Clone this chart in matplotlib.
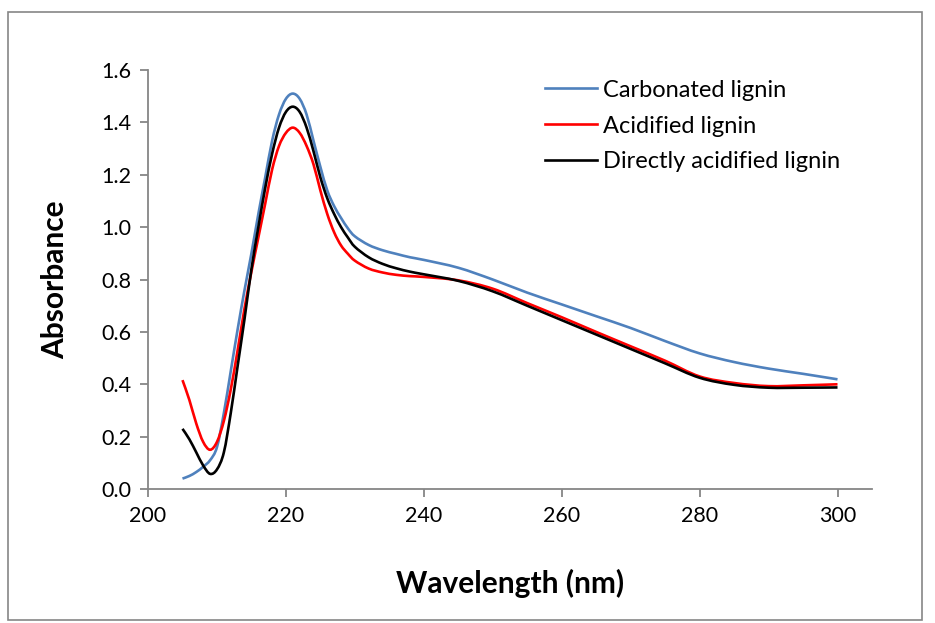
"""UV absorbance spectra of three lignin samples (Excel-style smoothed line chart)."""

import matplotlib

matplotlib.use("Agg")
import matplotlib.pyplot as plt
import numpy as np
from matplotlib.lines import Line2D
from matplotlib.patches import PathPatch, Rectangle
from matplotlib.path import Path
from matplotlib.ticker import FormatStrFormatter

plt.rcParams["font.family"] = ["Lato", "DejaVu Sans"]

wavelength = [205, 206, 207, 208, 209, 210, 211, 212, 213, 214, 215, 216, 217, 218,
              219, 220, 221, 222, 223, 224, 225, 226, 227, 228, 229, 230, 232, 234,
              236, 238, 240, 245, 250, 255, 260, 265, 270, 275, 280, 285, 290, 295, 300]

carbonated = [0.04, 0.05, 0.065, 0.085, 0.11, 0.16, 0.29, 0.45, 0.61, 0.76, 0.90, 1.05,
              1.19, 1.33, 1.43, 1.49, 1.51, 1.49, 1.43, 1.33, 1.23, 1.14, 1.08, 1.035,
              0.995, 0.965, 0.932, 0.912, 0.898, 0.885, 0.875, 0.845, 0.80, 0.75, 0.705,
              0.66, 0.615, 0.565, 0.518, 0.485, 0.46, 0.44, 0.419]

acidified = [0.416, 0.34, 0.25, 0.18, 0.15, 0.18, 0.26, 0.38, 0.53, 0.69, 0.83, 0.96,
             1.09, 1.22, 1.31, 1.36, 1.38, 1.36, 1.31, 1.24, 1.14, 1.05, 0.98, 0.93,
             0.898, 0.872, 0.842, 0.827, 0.818, 0.813, 0.81, 0.797, 0.765, 0.71, 0.656,
             0.60, 0.545, 0.49, 0.43, 0.405, 0.393, 0.396, 0.40]

direct = [0.23, 0.19, 0.14, 0.09, 0.058, 0.075, 0.14, 0.29, 0.47, 0.65, 0.84, 1.00,
          1.15, 1.28, 1.38, 1.44, 1.46, 1.44, 1.38, 1.29, 1.19, 1.11, 1.05, 1.00,
          0.96, 0.925, 0.885, 0.86, 0.843, 0.83, 0.82, 0.795, 0.755, 0.70, 0.645,
          0.59, 0.535, 0.48, 0.425, 0.398, 0.387, 0.387, 0.388]

series = [
    ("Carbonated lignin", carbonated, "#4F81BD"),
    ("Acidified lignin", acidified, "#FF0000"),
    ("Directly acidified lignin", direct, "#000000"),
]

GRAY = "#868686"
LW = 1.9


def smooth_path(x, y):
    """Bezier path through the points, like Excel's 'smoothed line' option."""
    pts = np.column_stack([x, y]).astype(float)
    n = len(pts)
    verts = [pts[0]]
    codes = [Path.MOVETO]
    for i in range(n - 1):
        p0 = pts[max(i - 1, 0)]
        p1 = pts[i]
        p2 = pts[i + 1]
        p3 = pts[min(i + 2, n - 1)]
        verts += [p1 + (p2 - p0) / 6, p2 - (p3 - p1) / 6, p2]
        codes += [Path.CURVE4] * 3
    return Path(verts, codes)


fig = plt.figure(figsize=(9.35, 6.23), dpi=100)
ax = fig.add_axes([0.1583, 0.215, 0.7743, 0.6726])

handles = []
for label, values, color in series:
    ax.add_patch(PathPatch(smooth_path(wavelength, values), fill=False, edgecolor=color,
                           linewidth=LW, joinstyle="round", capstyle="butt"))
    handles.append(Line2D([], [], color=color, linewidth=LW, label=label))

ax.set_xlim(200, 305)
ax.set_ylim(0, 1.6)
ax.set_xticks(range(200, 301, 20))
ax.set_yticks([0.0, 0.2, 0.4, 0.6, 0.8, 1.0, 1.2, 1.4, 1.6])
ax.yaxis.set_major_formatter(FormatStrFormatter("%.1f"))

for side in ("top", "right"):
    ax.spines[side].set_visible(False)
for side in ("left", "bottom"):
    ax.spines[side].set_color(GRAY)
    ax.spines[side].set_linewidth(1.3)
ax.tick_params(direction="out", length=6, width=1.3, color=GRAY,
               labelsize=15.5, labelcolor="black", pad=6)

ax.set_xlabel("Wavelength (nm)", fontsize=21.5, fontweight="bold", labelpad=31)
ax.set_ylabel("Absorbance", fontsize=21.5, fontweight="bold", labelpad=23)

ax.legend(handles=handles, loc="upper left", bbox_to_anchor=(0.583, 0.872),
          bbox_transform=fig.transFigure, frameon=False, fontsize=17,
          handlelength=2.2, handletextpad=0.25, labelspacing=0.63, borderaxespad=0,
          borderpad=0)

fig.patches.append(Rectangle((8 / 935, 3 / 623), 914 / 935, 608 / 623,
                             transform=fig.transFigure, fill=False,
                             edgecolor=GRAY, linewidth=1.2))

fig.savefig("out.png", dpi=100, facecolor="white")
